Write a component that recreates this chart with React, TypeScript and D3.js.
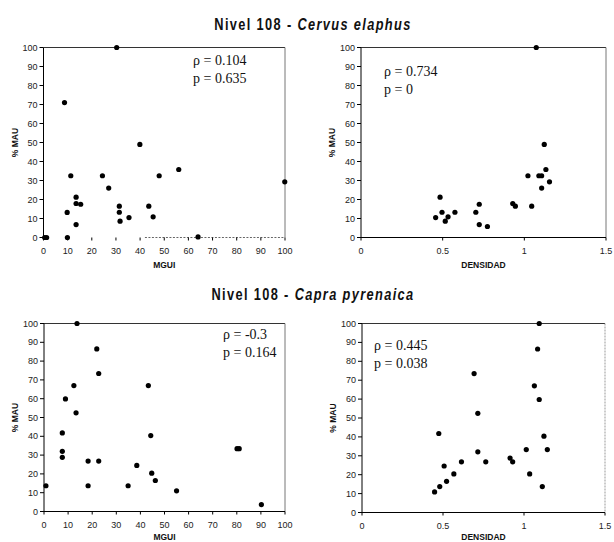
import React from "react";
import * as d3 from "d3";

// ---------- data ----------
const cervusMgui = [0.5, 1.3, 8.7, 9.8, 9.9, 11.3, 13.5, 13.5, 15.4, 13.5, 24.4, 27, 30.3, 31.4, 31.4, 31.7, 35.4, 39.9, 43.6, 45.4, 47.9, 56, 64, 99.9];
const cervusMauA = [0, 0, 71, 13.2, 0, 32.5, 21.2, 17.9, 17.5, 6.8, 32.5, 26, 100, 16.5, 13.3, 8.6, 10.5, 49, 16.5, 10.9, 32.5, 35.8, 0.3, 29.3];

const cervusDens = [0.457, 0.484, 0.496, 0.516, 0.533, 0.575, 0.703, 0.724, 0.724, 0.774, 0.929, 0.945, 1.022, 1.045, 1.073, 1.089, 1.106, 1.106, 1.122, 1.132, 1.154];
const cervusMauB = [10.5, 21.2, 13.3, 8.6, 10.9, 13.3, 13.3, 17.5, 6.8, 5.8, 17.9, 16.5, 32.5, 16.5, 100, 32.5, 32.5, 26, 49, 35.8, 29.3];

const capraMgui = [0.8, 7.6, 7.6, 7.6, 8.9, 12.4, 13.3, 13.7, 18.3, 18.3, 21.9, 22.7, 22.7, 34.9, 38.5, 43.3, 44.3, 44.7, 46.2, 55, 80.1, 81, 90.2];
const capraMauA = [13.7, 41.8, 32, 28.8, 59.9, 67, 52.5, 100, 26.8, 13.7, 86.5, 73.4, 26.8, 13.7, 24.5, 67, 40.4, 20.4, 16.5, 11, 33.4, 33.4, 3.7];

const capraDens = [0.448, 0.48, 0.474, 0.507, 0.522, 0.567, 0.614, 0.692, 0.715, 0.715, 0.764, 0.914, 0.93, 1.014, 1.035, 1.064, 1.084, 1.094, 1.094, 1.113, 1.123, 1.144];
const capraMauB = [10.9, 13.7, 41.8, 24.6, 16.5, 20.4, 26.8, 73.5, 52.5, 32.1, 26.8, 28.8, 26.8, 33.3, 20.4, 67, 86.5, 100, 59.8, 13.7, 40.4, 33.3];

const mauTicks = [0, 10, 20, 30, 40, 50, 60, 70, 80, 90, 100];
const mguiTicks = [0, 10, 20, 30, 40, 50, 60, 70, 80, 90, 100];
const densTicks = [0, 0.5, 1, 1.5];

const titles = [
  { plain: "Nivel 108 - ", italic: "Cervus elaphus" },
  { plain: "Nivel 108 - ", italic: "Capra pyrenaica" },
];

const stats = [
  ["ρ = 0.104", "p = 0.635"],
  ["ρ = 0.734", "p = 0"],
  ["ρ = -0.3", "p = 0.164"],
  ["ρ = 0.445", "p = 0.038"],
];

const xLabels = ["MGUI", "DENSIDAD", "MGUI", "DENSIDAD"];

// ---------- layout ----------
type PanelCfg = {
  x0: number; x1: number; y0: number; y1: number;
  xs: number[]; ys: number[]; xMax: number; xTicks: number[];
  stat: string[]; statX: number; statY: number; xLabel: string; xLabelDy: number;
  bottomStyle: "broken" | "solid"; rightStyle: "solid" | "dotted";
};

const panels: PanelCfg[] = [
  { x0: 43.5, x1: 285, y0: 237.5, y1: 47.5, xs: cervusMgui, ys: cervusMauA, xMax: 100, xTicks: mguiTicks, stat: stats[0], statX: 193, statY: 65, xLabel: xLabels[0], xLabelDy: 30, bottomStyle: "broken", rightStyle: "solid" },
  { x0: 361, x1: 606, y0: 237.5, y1: 47.5, xs: cervusDens, ys: cervusMauB, xMax: 1.5, xTicks: densTicks, stat: stats[1], statX: 384, statY: 76, xLabel: xLabels[1], xLabelDy: 30, bottomStyle: "solid", rightStyle: "solid" },
  { x0: 44, x1: 285, y0: 511.5, y1: 323.5, xs: capraMgui, ys: capraMauA, xMax: 100, xTicks: mguiTicks, stat: stats[2], statX: 223, statY: 339, xLabel: xLabels[2], xLabelDy: 28, bottomStyle: "solid", rightStyle: "solid" },
  { x0: 362, x1: 605, y0: 512.5, y1: 323.5, xs: capraDens, ys: capraMauB, xMax: 1.5, xTicks: densTicks, stat: stats[3], statX: 374, statY: 350, xLabel: xLabels[3], xLabelDy: 27.5, bottomStyle: "solid", rightStyle: "dotted" },
];

const tickFont = "Arial, 'Liberation Sans', sans-serif";

function Panel({ c }: { c: PanelCfg }) {
  const x = d3.scaleLinear().domain([0, c.xMax]).range([c.x0, c.x1]);
  const y = d3.scaleLinear().domain([0, 100]).range([c.y0, c.y1]);
  const midX = (c.x0 + c.x1) / 2;
  const midY = (c.y0 + c.y1) / 2;
  return (
    <g>
      {/* frame */}
      <line x1={c.x0} x2={c.x1} y1={c.y1} y2={c.y1} stroke="#333" strokeWidth={1.2} />
      <line x1={c.x1} x2={c.x1} y1={c.y1} y2={c.y0} stroke={c.rightStyle === "dotted" ? "#999" : "#777"} strokeWidth={1} strokeDasharray={c.rightStyle === "dotted" ? "2,1" : undefined} />
      <line x1={c.x0} x2={c.x0} y1={c.y1} y2={c.y0} stroke="#000" strokeWidth={1} />
      {c.bottomStyle === "solid" ? (
        <line x1={c.x0} x2={c.x1} y1={c.y0} y2={c.y0} stroke="#000" strokeWidth={1} />
      ) : (
        <line x1={x(42)} x2={c.x1} y1={c.y0} y2={c.y0} stroke="#666" strokeWidth={1} strokeDasharray="2,1.5" />
      )}
      {/* y ticks */}
      {mauTicks.map((t) => (
        <g key={"y" + t}>
          <line x1={c.x0 - 4} x2={c.x0} y1={y(t)} y2={y(t)} stroke="#000" strokeWidth={1} />
          <text x={c.x0 - 6} y={y(t) + 3} textAnchor="end" fontSize={9} fontFamily={tickFont} fill="#222">{t}</text>
        </g>
      ))}
      {/* x ticks */}
      {c.xTicks.map((t) => (
        <g key={"x" + t}>
          <line x1={x(t)} x2={x(t)} y1={c.y0} y2={c.y0 + 3} stroke="#000" strokeWidth={1} />
          <text x={x(t)} y={c.y0 + 16} textAnchor="middle" fontSize={9} fontFamily={tickFont} fill="#222">{String(t)}</text>
        </g>
      ))}
      {/* axis labels */}
      <text x={midX} y={c.y0 + c.xLabelDy} textAnchor="middle" fontSize={8.5} fontWeight="bold" fontFamily={tickFont} fill="#111">{c.xLabel}</text>
      <text transform={`translate(${c.x0 - 26},${midY}) rotate(-90)`} textAnchor="middle" fontSize={8.5} fontWeight="bold" fontFamily={tickFont} fill="#111">% MAU</text>
      {/* stats */}
      <text x={c.statX} y={c.statY} fontSize={14} fontFamily="'Liberation Serif', 'Times New Roman', serif" fill="#111">{c.stat[0]}</text>
      <text x={c.statX} y={c.statY + 18} fontSize={14} fontFamily="'Liberation Serif', 'Times New Roman', serif" fill="#111">{c.stat[1]}</text>
      {/* points */}
      {c.xs.map((v, i) => (
        <circle key={i} cx={x(v)} cy={y(c.ys[i])} r={2.6} fill="#000" />
      ))}
    </g>
  );
}

export default function App() {
  const titleY = [30, 300];
  return (
    <svg width={614} height={542} style={{ position: "absolute", left: 0, top: 0, background: "#fff" }}>
      <rect width={614} height={542} fill="#fff" />
      {titles.map((t, i) => (
        <g key={i} transform={`translate(313,${titleY[i]}) scale(0.8,1)`}>
          <text x={0} y={0} textAnchor="middle" fontSize={16} fontWeight="bold" letterSpacing={1.7} fontFamily="'Liberation Sans', Arial, sans-serif" fill="#111">
            {t.plain}
            <tspan fontStyle="italic">{t.italic}</tspan>
          </text>
        </g>
      ))}
      {panels.map((c, i) => (
        <Panel key={i} c={c} />
      ))}
    </svg>
  );
}
